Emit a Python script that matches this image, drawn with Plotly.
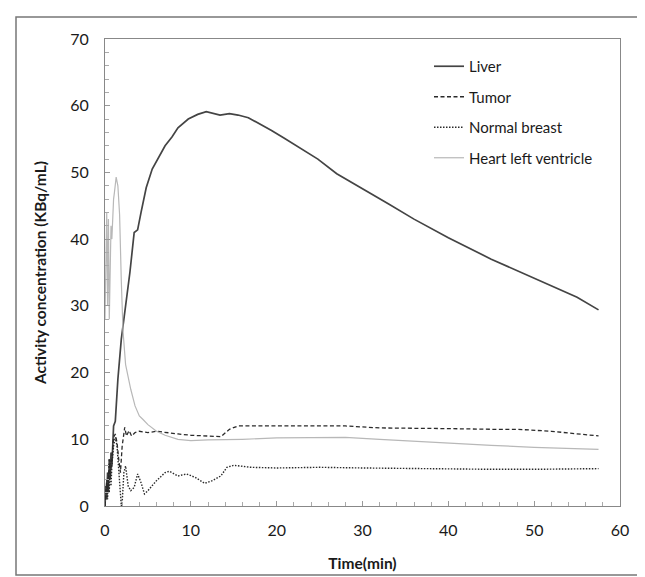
import plotly.graph_objects as go

# Liver
liver_t = [0, 0.1, 0.2, 0.3, 0.4, 0.5, 0.6, 0.7, 0.8, 0.9, 1.0, 1.2, 1.5, 1.9, 2.4, 2.9, 3.4, 3.8, 4.2, 4.8,
           5.5, 6.2, 7.0, 7.8, 8.5, 9.7, 10.8, 11.8, 12.6, 13.4, 14.5, 15.5, 16.7, 18.0, 19.4, 20.8, 22.1,
           23.5, 24.8, 27.0, 30.0, 33.0, 36.0, 40.0, 45.0, 50.0, 55.0, 57.5]
liver_v = [0, 3, 1, 5, 2, 7, 4, 8, 6, 9, 12, 12.7, 19, 25, 30, 35, 41, 41.4, 44, 47.7,
           50.5, 52.2, 54.0, 55.3, 56.7, 58.0, 58.7, 59.1, 58.9, 58.6, 58.8, 58.6, 58.2, 57.3, 56.3, 55.2, 54.2,
           53.1, 52.0, 49.8, 47.6, 45.3, 43.0, 40.2, 37.0, 34.2, 31.3, 29.4]

# Tumor
tumor_t = [0, 0.2, 0.3, 0.5, 0.6, 0.8, 1.0, 1.2, 1.4, 1.6, 1.8, 2.0, 2.3, 2.5, 2.8, 3.1, 3.5, 4.0, 5.0, 6.0,
           7.0, 8.5, 10.0, 12.0, 13.5, 14.5, 15.5, 20.0, 25.0, 28.0, 32.0, 36.0, 40.0, 45.0, 48.0, 52.0, 55.0, 57.5]
tumor_v = [0, 4, 2, 7, 4, 8, 10.3, 10.8, 9.5, 7, 5, 9, 11.8, 10.5, 11.3, 10.5, 11.0, 11.2, 11.0, 11.2,
           11.0, 10.8, 10.6, 10.5, 10.4, 11.5, 12.0, 12.0, 12.0, 12.0, 11.7, 11.6, 11.6, 11.5, 11.5, 11.2, 10.8, 10.5]

# Normal breast
breast_t = [0, 0.2, 0.3, 0.4, 0.5, 0.6, 0.7, 0.8, 1.0, 1.2, 1.4, 1.6, 1.8, 1.9, 2.0, 2.2, 2.4, 2.7, 3.0, 3.4,
            3.8, 4.2, 4.6, 5.0, 6.0, 7.0, 7.5, 8.5, 9.5, 10.5, 11.6, 12.5, 13.5, 14.2, 15.0, 17.0, 20.0, 25.0,
            30.0, 35.0, 40.0, 45.0, 50.0, 55.0, 57.5]
breast_v = [0, 3, 1, 5, 2, 7, 3, 6, 9, 10.3, 9, 5, 1, 0, 0.5, 5, 6, 3, 2.3, 2.8,
            4.8, 3.5, 1.8, 2.3, 3.8, 5.0, 5.2, 4.5, 4.8, 4.3, 3.4, 3.8, 4.5, 5.8, 6.1, 5.8, 5.7, 5.8,
            5.7, 5.6, 5.5, 5.5, 5.5, 5.5, 5.6]

# Heart left ventricle
heart_t = [0, 0.1, 0.2, 0.3, 0.4, 0.5, 0.6, 0.7, 0.8, 0.9, 1.0, 1.1, 1.3, 1.5, 1.7, 1.9, 2.1, 2.4, 3.0, 3.5,
           4.0, 4.4, 5.0, 6.0, 7.0, 8.5, 10.0, 12.0, 14.0, 16.0, 20.0, 25.0, 28.0, 32.0, 36.0, 40.0, 45.0,
           50.0, 55.0, 57.5]
heart_v = [28, 40, 44, 30, 43, 28, 40, 42, 40, 44, 46, 47, 49.3, 48, 43.7, 33.7, 26.2, 21.2, 17.5, 15.0,
           13.5, 13.0, 12.2, 11.2, 10.6, 10.0, 9.8, 9.9, 9.9, 10.0, 10.2, 10.3, 10.3, 10.0, 9.7, 9.4, 9.1,
           8.8, 8.6, 8.5]

x_ticks = [0, 10, 20, 30, 40, 50, 60]
y_ticks = [0, 10, 20, 30, 40, 50, 60, 70]

FONT = "Lato"
TXT = "#1a1a1a"

fig = go.Figure()
fig.add_trace(go.Scatter(x=liver_t, y=liver_v, mode="lines", name="Liver", legendgroup="a",
                         line=dict(color="#444444", width=1.7)))
fig.add_trace(go.Scatter(x=tumor_t, y=tumor_v, mode="lines", name="Tumor", legendgroup="b",
                         line=dict(color="#2a2a2a", width=1.3, dash="4px,2.5px")))
fig.add_trace(go.Scatter(x=breast_t, y=breast_v, mode="lines", name="Normal breast", legendgroup="c",
                         line=dict(color="#2a2a2a", width=1.4, dash="1.5px,1.5px")))
fig.add_trace(go.Scatter(x=heart_t, y=heart_v, mode="lines", name="Heart left ventricle", legendgroup="d",
                         line=dict(color="#b8b8b8", width=1.2)))

L, R, T, B = 97, 612, 31, 498
W, H = 645, 577
pw, ph = R - L, B - T

fig.update_layout(
    width=W, height=H,
    margin=dict(l=L, r=W - R, t=T, b=H - B, autoexpand=False),
    paper_bgcolor="white", plot_bgcolor="white",
    font=dict(family=FONT, size=15, color=TXT),
    showlegend=True,
    legend=dict(x=(421 - L) / pw, y=(B - 42) / ph, xanchor="left", yanchor="top",
                bgcolor="rgba(0,0,0,0)", font=dict(size=15, family=FONT, color=TXT),
                tracegroupgap=8, itemwidth=30),
    xaxis=dict(range=[0, 60], tickvals=x_ticks, ticks="inside", ticklen=5, tickcolor="#999",
               showgrid=False, zeroline=False, showline=True, linecolor="#888", linewidth=1, mirror=True,
               minor=dict(dtick=2, ticks="inside", ticklen=4, tickcolor="#aaa"),
               automargin=False, ticklabelstandoff=10,
               title=dict(text="<b>Time(min)</b>", font=dict(size=15.5, family=FONT, color=TXT), standoff=19),
               tickfont=dict(size=16, color=TXT)),
    yaxis=dict(range=[0, 70], tickvals=y_ticks, ticks="inside", ticklen=5, tickcolor="#999",
               showgrid=False, zeroline=False, showline=True, linecolor="#888", linewidth=1, mirror=True,
               minor=dict(dtick=2, ticks="inside", ticklen=4, tickcolor="#aaa"),
               automargin=False, ticklabelstandoff=12,
               title=dict(text="<b>Activity concentration (KBq/mL)</b>", font=dict(size=15.5, family=FONT, color=TXT), standoff=19),
               tickfont=dict(size=16, color=TXT)),
)

fig.add_shape(type="rect", xref="paper", yref="paper",
              x0=(8 - L) / pw, x1=(636 - L) / pw, y0=(B - 567) / ph, y1=(B - 9) / ph,
              line=dict(color="#777", width=1.5), fillcolor="rgba(0,0,0,0)", layer="below")

fig.write_html("out.html")
